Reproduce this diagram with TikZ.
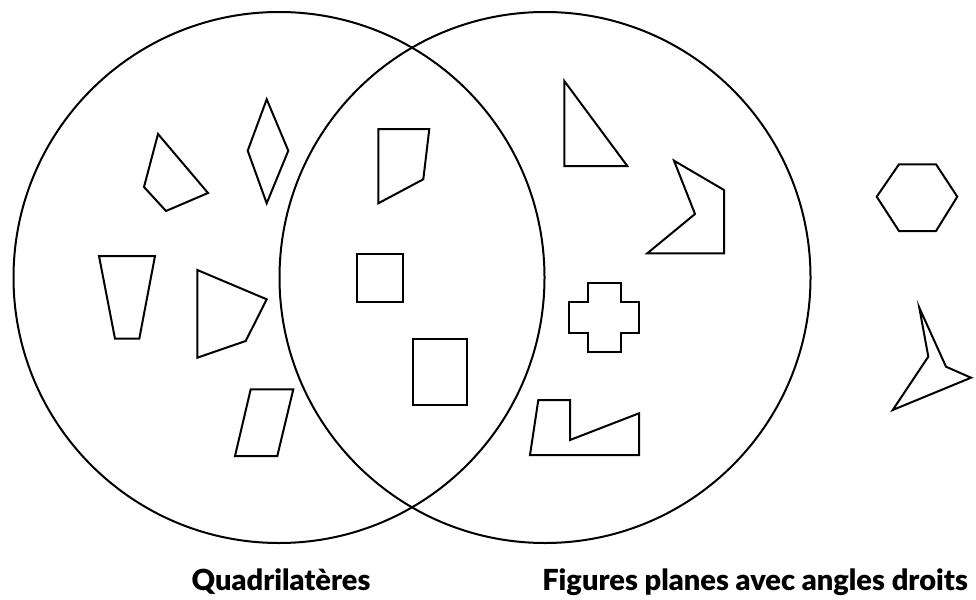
\documentclass[tikz,border=0pt]{standalone}
\usepackage{fontspec}
\setmainfont{Lato}[BoldFont={Lato Black}]
\tikzset{
  outline/.style={draw=black, line width=2pt, line join=miter},
  setlabel/.style={font=\bfseries\fontsize{29}{31}\selectfont, anchor=base, inner sep=0pt},
}
\begin{document}
\begin{tikzpicture}[x=1pt, y=-1pt]
  \useasboundingbox (0,0) rectangle (976,599);

  % the two overlapping sets
  \draw[outline] (279,277.5) circle (265.5);
  \draw[outline] (545,277.5) circle (265.5);

  % quadrilaterals only
  \draw[outline] (158,134) -- (208,193) -- (166,211) -- (144,187) -- cycle;
  \draw[outline] (266.7,99.3) -- (288.3,150.7) -- (266.7,203.3) -- (247.7,150.7) -- cycle;
  \draw[outline] (99,256) -- (155,256) -- (139.3,338.7) -- (115,338.7) -- cycle;
  \draw[outline] (197.3,270) -- (266.7,299.3) -- (245.7,341) -- (197.3,357.7) -- cycle;
  \draw[outline] (250.7,389.3) -- (293.3,389.3) -- (277.3,456) -- (235,456) -- cycle;

  % quadrilaterals with right angles
  \draw[outline] (378.3,129) -- (429.3,129) -- (423.3,179.3) -- (378.3,203.3) -- cycle;
  \draw[outline] (356.7,254) rectangle (402.7,301.7);
  \draw[outline] (412.7,338.7) rectangle (466.7,405.3);

  % other plane figures with right angles
  \draw[outline] (564.3,81) -- (564.3,166) -- (627.3,166) -- cycle;
  \draw[outline] (674,160.7) -- (724,190) -- (724,253.3) -- (647.3,253.3) -- (695,214) -- cycle;
  \draw[outline] (588.3,283.3) -- (620.7,283.3) -- (620.7,301.7) -- (639.3,301.7)
    -- (639.3,333.3) -- (620.7,333.3) -- (620.7,352) -- (588.3,352)
    -- (588.3,333.3) -- (569.3,333.3) -- (569.3,301.7) -- (588.3,301.7) -- cycle;
  \draw[outline] (538.3,400) -- (570,400) -- (570,440) -- (639,413.3) -- (639,455) -- (530,455) -- cycle;

  % outside both sets
  \draw[outline] (899,164.3) -- (936,164.3) -- (957.3,196.7) -- (936,231) -- (899,231) -- (876.7,196.7) -- cycle;
  \draw[outline] (919.3,307.7) -- (946,366.7) -- (971,377.7) -- (892.7,410) -- (928.3,356.7) -- cycle;

  % set labels
  \node[setlabel] (quad) at (281,590) {Quadrilatères};
  \node[setlabel] (droits) at (755,590) {Figures planes avec angles droits};
\end{tikzpicture}
\end{document}
